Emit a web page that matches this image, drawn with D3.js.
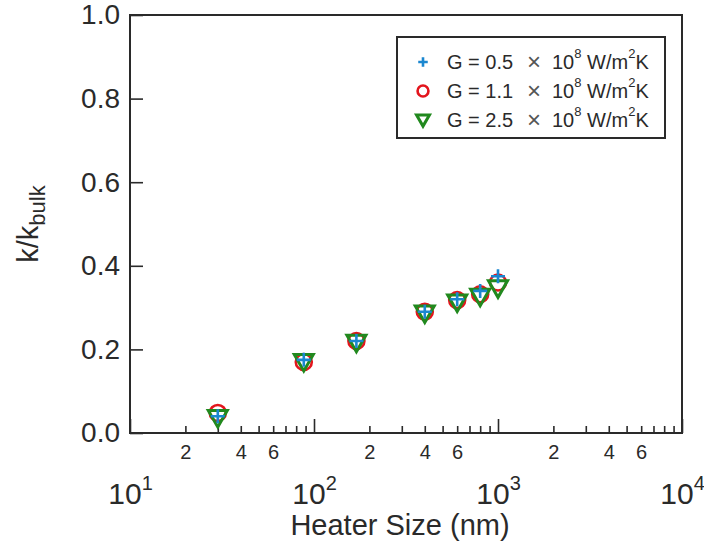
<!DOCTYPE html>
<html>
<head>
<meta charset="utf-8">
<script src="https://cdn.jsdelivr.net/npm/d3@7"></script>
<style>
  html, body { margin: 0; padding: 0; background: #fff; }
  svg { display: block; font-family: Arial, "Liberation Sans", Helvetica, sans-serif; }
</style>
</head>
<body>
<svg id="chart" width="704" height="545"></svg>
<script>
// Heater size (nm) and normalised conductivity k/k_bulk for three interface conductances
const heaterSize = [30, 88, 170, 400, 600, 800, 1000];
const kG05 = [0.040, 0.175, 0.220, 0.290, 0.320, 0.340, 0.375];
const kG11 = [0.048, 0.170, 0.220, 0.290, 0.318, 0.332, 0.360];
const kG25 = [0.036, 0.170, 0.216, 0.286, 0.312, 0.326, 0.346];
const seriesG = ["0.5", "1.1", "2.5"];
const seriesColors = ["#1b87d0", "#e3151d", "#21891e"];

const yTicks = [0, 0.2, 0.4, 0.6, 0.8, 1.0];
const xDecades = [10, 100, 1000, 10000];
const decadeExponents = ["1", "2", "3", "4"];
const minorMultipliers = [2, 3, 4, 5, 6, 7, 8, 9];
const minorLabelled = [2, 4, 6];

const svg = d3.select("#chart");
const ink = "#2a2a2a";
const L = 130, R = 682, T = 15, B = 433;

const x = d3.scaleLog().domain([10, 10000]).range([L, R]);
const y = d3.scaleLinear().domain([0, 1]).range([B, T]);

// minor x ticks (2..9 in each decade), labelled at 2, 4, 6
const minorTicks = [];
xDecades.slice(0, 3).forEach(d => minorMultipliers.forEach(m => minorTicks.push(d * m)));

const xMinorAxis = d3.axisBottom(x)
  .tickValues(minorTicks)
  .tickSizeInner(-7).tickSizeOuter(0).tickPadding(12)
  .tickFormat(v => {
    const m = Math.round(v / Math.pow(10, Math.floor(Math.log10(v) + 1e-9)));
    return minorLabelled.includes(m) ? String(m) : "";
  });
const gMinor = svg.append("g").attr("transform", `translate(0,${B})`).call(xMinorAxis);
gMinor.select(".domain").remove();
gMinor.selectAll("line").attr("stroke", ink).attr("stroke-width", 1.6);
gMinor.selectAll("text").attr("fill", ink).attr("font-size", 20).attr("font-family", null);

// major x ticks (decades) with power-of-ten labels
const xMajorAxis = d3.axisBottom(x)
  .tickValues(xDecades)
  .tickSizeInner(-14).tickSizeOuter(0).tickPadding(0)
  .tickFormat(() => "");
const gMajor = svg.append("g").attr("transform", `translate(0,${B})`).call(xMajorAxis);
gMajor.select(".domain").remove();
gMajor.selectAll("line").attr("stroke", ink).attr("stroke-width", 1.6);
gMajor.selectAll(".tick").each(function(d, i) {
  const t = d3.select(this).select("text")
    .attr("fill", ink).attr("font-size", 30).attr("font-family", null)
    .attr("y", 71).attr("dy", null).attr("text-anchor", "middle").text(null);
  t.append("tspan").text("10");
  t.append("tspan").attr("font-size", 20).attr("dy", -14).text(decadeExponents[i]);
});

// y axis, inward ticks
const yAxis = d3.axisLeft(y)
  .tickValues(yTicks)
  .tickSizeInner(-13).tickSizeOuter(0).tickPadding(10)
  .tickFormat(d3.format(".1f"));
const gy = svg.append("g").attr("transform", `translate(${L},0)`).call(yAxis);
gy.select(".domain").remove();
gy.selectAll("line").attr("stroke", ink).attr("stroke-width", 1.6);
gy.selectAll("text").attr("fill", ink).attr("font-size", 28).attr("font-family", null);

// plot frame
svg.append("rect")
  .attr("x", L).attr("y", T).attr("width", R - L).attr("height", B - T)
  .attr("fill", "none").attr("stroke", ink).attr("stroke-width", 2);

// axis titles
svg.append("text")
  .attr("x", (L + R) / 2 - 6).attr("y", 535)
  .attr("text-anchor", "middle").attr("font-size", 29).attr("fill", ink)
  .text("Heater Size (nm)");

const yTitle = svg.append("text")
  .attr("transform", `translate(38,${(T + B) / 2}) rotate(-90)`)
  .attr("text-anchor", "middle").attr("font-size", 29).attr("fill", ink);
yTitle.append("tspan").text("k/k");
yTitle.append("tspan").attr("font-size", 22).attr("dy", 7).text("bulk");

// marker shapes
const markers = [
  (g, s) => g.append("path").attr("d", `M${-7 * s},0H${7 * s}M0,${-7 * s}V${7 * s}`)
    .attr("fill", "none").attr("stroke-width", 2.6),
  (g, s) => g.append("circle").attr("r", 8 * s)
    .attr("fill", "none").attr("stroke-width", 2.6),
  (g, s) => g.append("path").attr("d", `M${-9.5 * s},${-7.5 * s}L${9.5 * s},${-7.5 * s}L0,${9 * s}Z`)
    .attr("fill", "none").attr("stroke-width", 3).attr("stroke-linejoin", "miter")
];

const seriesValues = [kG05, kG11, kG25];
const drawOrder = [1, 2, 0];

drawOrder.forEach(si => {
  const vals = seriesValues[si];
  const g = svg.append("g").attr("stroke", seriesColors[si]);
  heaterSize.forEach((hs, i) => {
    const m = g.append("g").attr("transform", `translate(${x(hs)},${y(vals[i])})`);
    markers[si](m, 1);
  });
});

// legend
const leg = svg.append("g");
leg.append("rect")
  .attr("x", 397).attr("y", 37).attr("width", 268).attr("height", 101)
  .attr("fill", "#fff").attr("stroke", ink).attr("stroke-width", 2);
const rowY = [62, 91, 120];
seriesG.forEach((gv, i) => {
  const mk = leg.append("g").attr("stroke", seriesColors[i])
    .attr("transform", `translate(423,${rowY[i]})`);
  markers[i](mk, 0.68);
  const base = rowY[i] + 7;
  leg.append("text").attr("x", 447).attr("y", base).attr("font-size", 20).attr("fill", ink)
    .text(`G = ${gv}`);
  leg.append("text").attr("x", 534).attr("y", base + 1).attr("font-size", 24).attr("fill", "#555")
    .attr("font-weight", 300).attr("text-anchor", "middle").text("×");
  const t = leg.append("text").attr("x", 552).attr("y", base).attr("font-size", 20).attr("fill", ink);
  t.append("tspan").text("10");
  t.append("tspan").attr("font-size", 13).attr("dy", -11).text("8");
  t.append("tspan").attr("dy", 11).text(" W/m");
  t.append("tspan").attr("font-size", 13).attr("dy", -11).text("2");
  t.append("tspan").attr("dy", 11).text("K");
});
</script>
</body>
</html>
